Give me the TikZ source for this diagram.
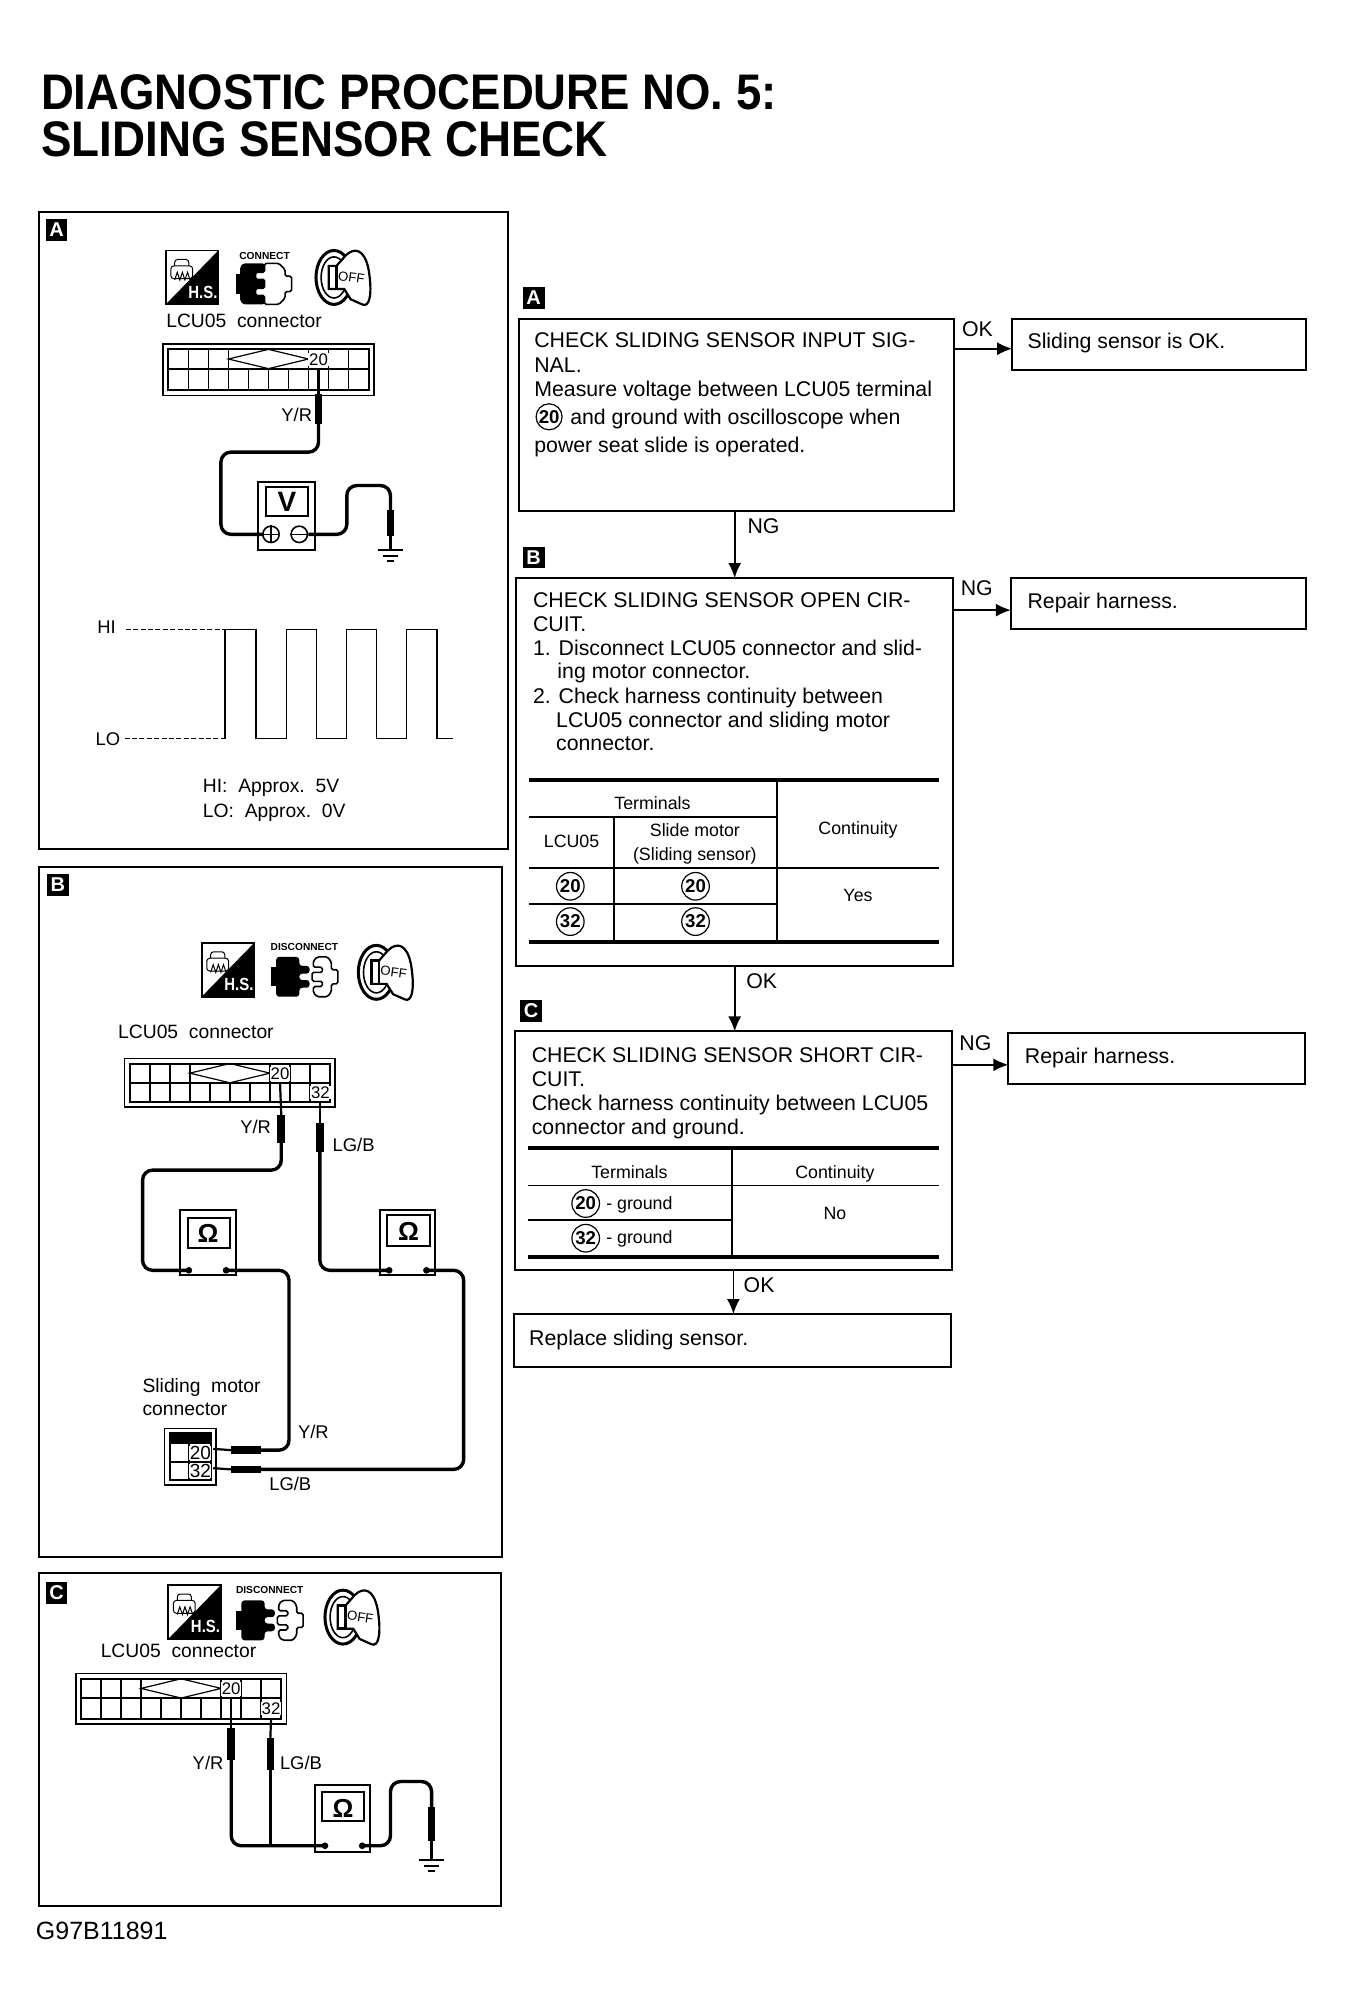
\documentclass[tikz,border=0pt]{standalone}
\usepackage{fontspec}
\setmainfont{Liberation Sans}
\usetikzlibrary{arrows.meta,fit}
\tikzset{
  x=0.6423pt,y=-0.6423pt,
  panel/.style={draw,line width=1pt,inner sep=0pt,outer sep=0pt},
  flowbox/.style={draw,line width=1pt,inner sep=0pt,outer sep=0pt},
  lbl/.style={inner sep=0pt,outer sep=0pt,anchor=base west,yshift=-.4pt,font=\fontsize{10.65}{12}\selectfont},
  lblc/.style={inner sep=0pt,outer sep=0pt,anchor=base,yshift=-.8pt,font=\fontsize{9.2}{11}\selectfont},
  lblw/.style={lblc,font=\fontsize{9.65}{11}\selectfont},
  tbl/.style={inner sep=0pt,outer sep=0pt,anchor=base,font=\fontsize{8.9}{11}\selectfont},
  badge/.style={fill=black,text=white,inner sep=0pt,minimum width=17*0.6423pt,minimum height=17*0.6423pt,font=\bfseries\fontsize{10}{10}\selectfont},
  cnumb/.style={draw,circle,line width=.6pt,inner sep=0pt,minimum size=13.8pt,font=\bfseries\fontsize{9.3}{10}\selectfont},
  flowline/.style={line width=.8pt,-{Latex[length=7.5pt,width=6.5pt]}},
  thinrule/.style={line width=.9pt},
  thickrule/.style={line width=2pt},
  wire/.style={line width=1.7pt,rounded corners=5pt},
  pinwire/.style={line width=1.1pt},
  icon/.style={line width=.8pt},
  meterbox/.style={draw,line width=1pt,inner sep=0pt,outer sep=0pt},
  wave/.style={line width=.8pt},
  dashline/.style={line width=.4pt,dash pattern=on 2.5pt off 1.2pt},
  cellnum/.style={fill=white,inner sep=.4pt,font=\fontsize{8.4}{9}\selectfont},
  meterglyph/.style={inner sep=0pt,font=\bfseries\fontsize{13}{13}\selectfont},
  plugword/.style={inner sep=0pt,font=\bfseries\fontsize{5.1}{6}\selectfont},
}
% H.S. icon
\newcommand\hsicon[3]{\begin{scope}[shift={(#2,#3)}]
  \fill (0,42) -- (41,0) -- (41,42) -- cycle;
  \draw[line width=.9pt] (0,0) rectangle (41,42);
  \node[text=white,inner sep=0pt,xscale=.85,transform shape,font=\bfseries\fontsize{8.8}{9}\selectfont] (#1hs) at (29,32.5) {H.S.};
  \draw[line width=.5pt,rounded corners=1.5pt] (4,12) -- (4,22) -- (21,22) -- (21,12) -- cycle;
  \draw[line width=.5pt,rounded corners=1.5pt] (7,12) -- (7,7) -- (18,7) -- (18,12);
  \draw[line width=.5pt] (7,23) -- (9,17) -- (11,23) -- (13,17) -- (15,23) -- (17,17) -- (19,23);
\end{scope}}
% connect icon
\newcommand\connicon[3]{\begin{scope}[shift={(#2,#3)}]
  \node[plugword] (#1ct) at (22,-6) {CONNECT};
  \fill[rounded corners=2.5pt] (3,0) -- (24,0) -- (24,32) -- (3,32) -- cycle;
  \fill (0,8) rectangle (4,24);
  \draw[icon,fill=white,rounded corners=.8pt] (22,0) -- (33,0) -- (38,5) -- (38,10) -- (43,10) -- (43,22) -- (38,22) -- (38,27) -- (33,32) -- (22,32) -- (22,25) -- (15,25) -- (15,19.5) -- (22,19.5) -- (22,12.5) -- (15,12.5) -- (15,7) -- (22,7) -- cycle;
\end{scope}}
% disconnect icon
\newcommand\disicon[3]{\begin{scope}[shift={(#2,#3)}]
  \node[plugword] (#1ct) at (26,-8) {DISCONNECT};
  \fill[rounded corners=1.5pt] (4,0) -- (22,0) -- (22,7) -- (30,7) -- (30,13) -- (22,13) -- (22,18) -- (30,18) -- (30,24) -- (22,24) -- (22,31) -- (4,31) -- cycle;
  \fill (0,8) rectangle (5,23);
  \draw[icon,fill=white,rounded corners=.8pt] (33,8) -- (33,3) -- (36,0) -- (44,0) -- (47,4) -- (47,10) -- (52,10) -- (52,21) -- (47,21) -- (47,27) -- (44,31) -- (36,31) -- (33,28) -- (33,23) -- (40,23) -- (40,19) -- (32,19) -- (32,12) -- (40,12) -- (40,8) -- cycle;
\end{scope}}
% key icon
\newcommand\keyicon[3]{\begin{scope}[shift={(#2,#3)}]
  \draw[line width=1.5pt] (14,21) ellipse [x radius=14,y radius=21];
  \draw[line width=.8pt] (14,21) ellipse [x radius=10,y radius=16];
  \draw[line width=1.1pt,fill=white] (10,12) -- (16,12) -- (23,4) .. controls (30,-3) and (38,-1) .. (41,15) .. controls (44,33) and (42,45) .. (36,42) -- (27,38) -- (22,30) -- (10,30) -- cycle;
  \draw[line width=1.3pt] (10,12) rectangle (16,30);
  \node[inner sep=0pt,rotate=-8,font=\fontsize{6.6}{7}\selectfont] (#1off) at (27.5,21) {OFF};
\end{scope}}
% connector block; #1 prefix, #2 #3 top-left, #4 total height
\newcommand\ecu[4]{\begin{scope}[shift={(#2,#3)}]
  \node[panel,line width=.8pt,fit={(0,0)(164,#4)}] (#1) {};
  \draw[line width=1pt] (4,4) rectangle (160,{#4-4});
  \draw[line width=.9pt] (4,19) -- (160,19);
  \foreach \k in {19.6,35.2,50.8,113.2,128.8,144.4} \draw[line width=.8pt] (\k,4) -- (\k,{#4-4});
  \foreach \k in {66.4,82,97.6} \draw[line width=.8pt] (\k,19) -- (\k,{#4-4});
  \draw[line width=.6pt] (50.8,11.5) -- (82,4) -- (113.2,11.5) -- (82,19) -- cycle;
  \node[cellnum] (#1t) at (121,12) {20};
  \coordinate (#1p) at (121,19);
  \coordinate (#1q) at (152,{#4-4});
\end{scope}}
\newcommand\meter[5]{% name, x1,y1,x2,y2
  \node[meterbox,fit={(#2,#3)(#4,#5)}] (#1) {};
}
\newcommand\gnd[3]{\coordinate (#1) at (#2,#3);
  \draw[line width=1pt] (#2-10,#3) -- (#2+10,#3);
  \draw[line width=1pt] (#2-6,#3+4.5) -- (#2+6,#3+4.5);
  \draw[line width=1pt] (#2-2.5,#3+9) -- (#2+2.5,#3+9);
}
\begin{document}
\begin{tikzpicture}
\fill[white] (0,0) rectangle (1047,1568);
\useasboundingbox (0,0) rectangle (1047,1568);
% title
\node[lbl,font=\bfseries\fontsize{25}{26}\selectfont,xscale=.91,transform shape] (title1) at (32,85) {DIAGNOSTIC PROCEDURE NO. 5:};
\node[lbl,font=\bfseries\fontsize{25}{26}\selectfont,xscale=.915,transform shape] (title2) at (32,121) {SLIDING SENSOR CHECK};
% panels
\node[panel,fit={(30,165)(395.5,661)}] (panelA) {};
\node[panel,fit={(30,675)(391,1212)}] (panelB) {};
\node[panel,fit={(30,1225)(390,1484)}] (panelC) {};
\node[badge] (badgeA) at (44,179) {A};
\node[badge] (badgeB) at (45,689) {B};
\node[badge] (badgeC) at (44,1240) {C};
\node[badge] (badgeFA) at (415.5,232) {A};
\node[badge] (badgeFB) at (415.5,434) {B};
\node[badge] (badgeFC) at (413.5,787) {C};
% ---------- Panel A
\hsicon{ia}{129}{195}
\connicon{ia}{184}{205}
\keyicon{ia}{246}{195}
\node[lblw] (aconn) at (190,254) {LCU05\ \ connector};
\ecu{ea}{127}{268}{40}
\node[lblc] (ayr) at (231,327) {Y/R};
\meter{ma}{201}{375}{245}{428}
\draw[line width=1pt] (207,379) rectangle (240,402);
\node[inner sep=0pt,font=\bfseries\fontsize{14}{14}\selectfont] (maV) at (223.5,390.5) {V};
\node[draw,circle,line width=.8pt,inner sep=0pt,minimum size=8.2pt] (maplus) at (211,416) {};
\node[draw,circle,line width=.8pt,inner sep=0pt,minimum size=8.2pt] (maminus) at (233,416) {};
\draw[line width=.7pt] (maplus.north) -- (maplus.south) (maplus.west) -- (maplus.east) (maminus.west) -- (maminus.east);
\draw[pinwire] (eap) -- (248,307);
\fill (245,307) rectangle (251,330);
\draw[wire] (248,330) -- (248,352) -- (172,352) -- (172,416) -- (maplus.west);
\draw[wire] (maminus.east) -- (270,416) -- (270,378) -- (304,378) -- (304,397);
\fill (301,397) rectangle (307,417);
\gnd{ga}{304}{428}
\draw[pinwire] (304,417) -- (ga);
% waveform
\node[lblc] (hi) at (83,492) {HI};
\node[lblc] (lo) at (84,579) {LO};
\coordinate (hiend) at (175.2,490);
\coordinate (loend) at (175.2,575);
\draw[dashline] (98,490) -- (hiend);
\draw[dashline] (97,575) -- (loend);
\draw[wave] (loend) -- (hiend) -- (199.3,490) -- (199.3,575) -- (223.2,575) -- (223.2,490) -- (246.5,490) -- (246.5,575) -- (269.9,575) -- (269.9,490) -- (293.2,490) -- (293.2,575) -- (316.6,575) -- (316.6,490) -- (340,490) -- (340,575) -- (353,575);
\node[lblw,anchor=base west] (hitxt) at (158,616) {HI:\ \ Approx.\ \ 5V};
\node[lblw,anchor=base west] (lotxt) at (158,635) {LO:\ \ Approx.\ \ 0V};
% ---------- Panel B
\hsicon{ib}{157}{734}
\disicon{ib}{211}{745}
\keyicon{ib}{279}{736}
\node[lblw,anchor=base west] (bconn) at (92,807) {LCU05\ \ connector};
\ecu{eb}{97}{824}{38}
\node[cellnum] (eb32) at (249.5,850.5) {32};
\node[lblc] (byr) at (199,881) {Y/R};
\node[lblc,anchor=base west] (blgb) at (259,895) {LG/B};
\meter{mb}{140.5}{942}{184}{993}
\draw[line width=1pt] (146,948) rectangle (179,972);
\node[meterglyph] (mbO) at (162,960) {Ω};
\coordinate (mbl) at (147,989);
\coordinate (mbr) at (176,989);
\fill (mbl) circle (2.6) (mbr) circle (2.6);
\meter{mc}{296}{942}{339}{993}
\draw[line width=1pt] (301,946) rectangle (335,970);
\node[meterglyph] (mcO) at (318,959) {Ω};
\coordinate (mcl) at (303,989);
\coordinate (mcr) at (332,989);
\fill (mcl) circle (2.6) (mcr) circle (2.6);
\draw[pinwire] (ebp) -- (219,868);
\fill (216,868) rectangle (222,890);
\draw[wire] (219,890) -- (219,911) -- (111,911) -- (111,989) -- (mbl);
\draw[pinwire] (ebq) -- (249,874);
\fill (246,874) rectangle (252,897);
\draw[wire] (249,897) -- (249,989) -- (mcl);
\node[lblw,anchor=base west] (smc1) at (111,1083) {Sliding\ \ motor};
\node[lblw,anchor=base west] (smc2) at (111,1101) {connector};
\node[panel,line width=.8pt,fit={(128,1112)(168,1156)}] (motor) {};
\draw[line width=1pt] (132,1116) rectangle (164,1152);
\fill (132,1116) rectangle (164,1124);
\draw[line width=.9pt] (147,1124) -- (147,1152) (132,1138) -- (164,1138);
\node[fill=white,inner sep=.2pt,font=\fontsize{9.5}{10}\selectfont] (mot20) at (156,1131) {20};
\node[fill=white,inner sep=.2pt,font=\fontsize{9.5}{10}\selectfont] (mot32) at (156,1145) {32};
\coordinate (mp20) at (166,1128);
\coordinate (mp32) at (166,1143);
\draw[wire] (mbr) -- (225,989) -- (225,1129) -- (203,1129);
\fill (180,1126) rectangle (203,1132);
\draw[pinwire] (180,1129) -- (mp20);
\draw[wire] (mcr) -- (361,989) -- (361,1144) -- (203,1144);
\fill (180,1141) rectangle (203,1147);
\draw[pinwire] (180,1144) -- (mp32);
\node[lblc] (byr2) at (244,1119) {Y/R};
\node[lblc] (blgb2) at (226,1159) {LG/B};
% ---------- Panel C
\hsicon{ic}{131}{1234}
\disicon{ic}{184}{1246}
\keyicon{ic}{253}{1238}
\node[lblw] (cconn) at (139,1289) {LCU05\ \ connector};
\ecu{ec}{59}{1303}{39}
\node[cellnum] (ec32) at (211,1330) {32};
\node[lblc] (cyr) at (162,1376) {Y/R};
\node[lblc,anchor=base west] (clgb) at (218,1376) {LG/B};
\meter{md}{245}{1390}{288}{1442}
\draw[line width=1pt] (251,1395) rectangle (283,1418);
\node[meterglyph] (mdO) at (267,1408) {Ω};
\coordinate (mdl) at (253,1437);
\coordinate (mdr) at (282,1437);
\fill (mdl) circle (2.6) (mdr) circle (2.6);
\draw[pinwire] (ecp) -- (180,1345);
\fill (177,1345) rectangle (183,1370);
\draw[wire] (180,1370) -- (180,1437) -- (mdl);
\draw[pinwire] (ecq) -- (210.5,1353);
\fill (207.5,1353) rectangle (213.5,1378);
\draw[wire,line width=1.2pt] (210.5,1378) -- (210.5,1437);
\draw[wire] (mdr) -- (304,1437) -- (304,1387) -- (336,1387) -- (336,1407);
\fill (333,1407) rectangle (339,1433);
\gnd{gc}{336}{1448}
\draw[pinwire] (336,1433) -- (gc);
\node[lbl,font=\fontsize{12.5}{13}\selectfont] (code) at (28,1509) {G97B11891};
% ---------- Flow
\node[flowbox,fit={(404,248)(743,398)}] (boxA) {};
\node[flowbox,fit={(788,248)(1017,288)}] (okA) {};
\node[flowbox,fit={(402,450)(742,752)}] (boxB) {};
\node[flowbox,fit={(787,450)(1017,490)}] (repB) {};
\node[flowbox,fit={(401,803)(741,989)}] (boxC) {};
\node[flowbox,fit={(785,804)(1016,844)}] (repC) {};
\node[flowbox,fit={(400,1023)(740.5,1064)}] (boxD) {};
\coordinate (ya) at (0,271.5);
\coordinate (yb) at (0,475);
\coordinate (yc) at (0,829);
\coordinate (xab) at (572,0);
\coordinate (xcd) at (571,0);
\draw[flowline] (boxA.east |- ya) -- (okA.west |- ya);
\draw[flowline] (boxB.east |- yb) -- (repB.west |- yb);
\draw[flowline] (boxC.east |- yc) -- (repC.west |- yc);
\draw[flowline] (boxA.south -| xab) -- (boxB.north -| xab);
\draw[flowline] (boxB.south -| xab) -- (boxC.north -| xab);
\draw[flowline] (boxC.south -| xcd) -- (boxD.north -| xcd);
\node[lbl] (lok1) at (749,261) {OK};
\node[lbl] (lng1) at (582,415) {NG};
\node[lbl] (lng2) at (748,463) {NG};
\node[lbl] (lok2) at (581,769) {OK};
\node[lbl] (lng3) at (747,817) {NG};
\node[lbl] (lok3) at (579,1006) {OK};
\node[lbl] (tok) at (800,271) {Sliding sensor is OK.};
\node[lbl] (trep1) at (800,473) {Repair harness.};
\node[lbl] (trep2) at (798,827) {Repair harness.};
\node[lbl] (trepl) at (412,1047) {Replace sliding sensor.};
% box A text
\node[lbl] (a1) at (416,270) {CHECK SLIDING SENSOR INPUT SIG-};
\node[lbl] (a2) at (416,289) {NAL.};
\node[lbl] (a3) at (416,308) {Measure voltage between LCU05 terminal};
\node[cnumb,minimum size=13pt] (a4c) at (427.5,324.5) {20};
\node[lbl] (a4) at (444,330) {and ground with oscilloscope when};
\node[lbl] (a5) at (416,352) {power seat slide is operated.};
% box B text
\node[lbl] (b1) at (415,472) {CHECK SLIDING SENSOR OPEN CIR-};
\node[lbl] (b2) at (415,491) {CUIT.};
\node[lbl] (b3) at (415,510) {1. Disconnect LCU05 connector and slid-};
\node[lbl] (b4) at (434,528) {ing motor connector.};
\node[lbl] (b5) at (415,547) {2. Check harness continuity between};
\node[lbl] (b6) at (433,566) {LCU05 connector and sliding motor};
\node[lbl] (b7) at (433,584) {connector.};
% table B
\draw[thickrule] (412,607) -- (731,607);
\draw[thinrule] (412,636) -- (605,636);
\draw[thinrule] (412,676) -- (731,676);
\draw[thinrule] (412,704) -- (605,704);
\draw[thickrule] (412,733) -- (731,733);
\draw[thinrule] (605,607) -- (605,733);
\draw[thinrule] (478,636) -- (478,733);
\node[tbl] (tbT) at (508,630) {Terminals};
\node[tbl] (tbL) at (445,660) {LCU05};
\node[tbl] (tbS1) at (541,651) {Slide motor};
\node[tbl] (tbS2) at (541,670) {(Sliding sensor)};
\node[tbl] (tbC) at (668,650) {Continuity};
\node[tbl] (tbY) at (668,702) {Yes};
\node[cnumb] (c1) at (444,690) {20};
\node[cnumb] (c2) at (541.5,690) {20};
\node[cnumb] (c3) at (444,717.5) {32};
\node[cnumb] (c4) at (541.5,717.5) {32};
% box C text
\node[lbl] (c1t) at (414,826.5) {CHECK SLIDING SENSOR SHORT CIR-};
\node[lbl] (c2t) at (414,845.5) {CUIT.};
\node[lbl] (c3t) at (414,864) {Check harness continuity between LCU05};
\node[lbl] (c4t) at (414,883) {connector and ground.};
% table C
\draw[thickrule] (411,894) -- (731,894);
\draw[thinrule] (411,923) -- (731,923);
\draw[thinrule] (411,950) -- (570,950);
\draw[thickrule] (411,979) -- (731,979);
\draw[thinrule] (570,894) -- (570,979);
\node[tbl] (tcT) at (490,917.5) {Terminals};
\node[tbl] (tcC) at (650,917.5) {Continuity};
\node[cnumb] (c5) at (456,937) {20};
\node[cnumb] (c6) at (456,964) {32};
\node[tbl,anchor=base west] (tcg1) at (472,942) {- ground};
\node[tbl,anchor=base west] (tcg2) at (472,968) {- ground};
\node[tbl] (tcN) at (650,949.5) {No};
\end{tikzpicture}
\end{document}
